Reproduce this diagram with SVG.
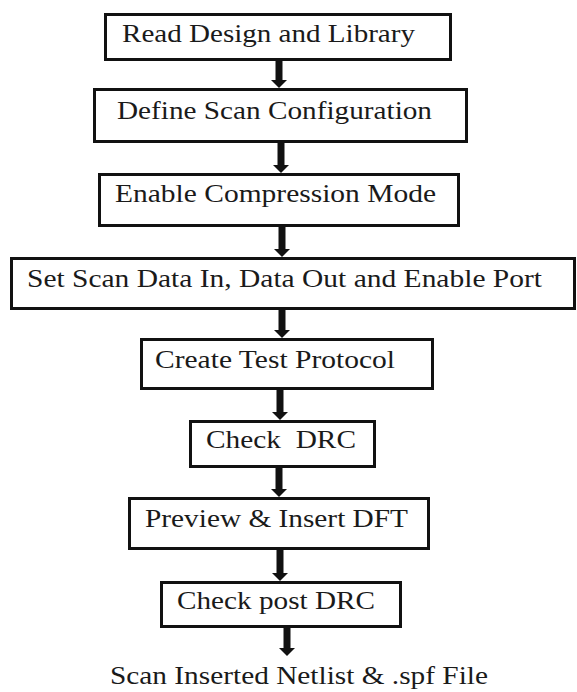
<svg xmlns="http://www.w3.org/2000/svg" width="577" height="692" viewBox="0 0 577 692">
  <style>
    .box { fill: #ffffff; stroke: #111111; stroke-width: 3; }
    .lbl { font-family: "Liberation Serif", "Times New Roman", serif; font-size: 26px; fill: #1a1a1a; }
    .conn { stroke: #111111; stroke-width: 7; fill: none; }
  </style>
  <defs>
    <marker id="head" markerUnits="userSpaceOnUse" viewBox="0 0 8 16" refX="0" refY="8" markerWidth="8" markerHeight="16" orient="auto">
      <path d="M0,0 L8,8 L0,16 Z" fill="#111111"/>
    </marker>
  </defs>
  <rect width="577" height="692" fill="#ffffff"/>

  <g id="connectors">
    <line class="conn" x1="279" y1="60" x2="279" y2="80" marker-end="url(#head)"/>
    <line class="conn" x1="281" y1="143" x2="281" y2="165" marker-end="url(#head)"/>
    <line class="conn" x1="282" y1="227" x2="282" y2="249" marker-end="url(#head)"/>
    <line class="conn" x1="282" y1="310" x2="282" y2="330" marker-end="url(#head)"/>
    <line class="conn" x1="280" y1="390" x2="280" y2="412" marker-end="url(#head)"/>
    <line class="conn" x1="279" y1="468" x2="279" y2="489" marker-end="url(#head)"/>
    <line class="conn" x1="280" y1="550" x2="280" y2="573" marker-end="url(#head)"/>
    <line class="conn" x1="287" y1="628" x2="287" y2="648" marker-end="url(#head)"/>
  </g>

  <g id="n1">
    <rect class="box" x="105.5" y="14.5" width="345" height="45"/>
    <text class="lbl" x="122" y="42" textLength="293" lengthAdjust="spacingAndGlyphs">Read Design and Library</text>
  </g>
  <g id="n2">
    <rect class="box" x="94.5" y="89.5" width="372" height="52"/>
    <text class="lbl" x="117" y="119" textLength="315" lengthAdjust="spacingAndGlyphs">Define Scan Configuration</text>
  </g>
  <g id="n3">
    <rect class="box" x="99.5" y="174.5" width="359" height="51"/>
    <text class="lbl" x="115" y="202" textLength="321" lengthAdjust="spacingAndGlyphs">Enable Compression Mode</text>
  </g>
  <g id="n4">
    <rect class="box" x="11.5" y="258.5" width="563" height="50"/>
    <text class="lbl" x="27" y="287" textLength="515" lengthAdjust="spacingAndGlyphs">Set Scan Data In, Data Out and Enable Port</text>
  </g>
  <g id="n5">
    <rect class="box" x="141.5" y="339.5" width="291" height="49"/>
    <text class="lbl" x="155" y="368" textLength="240" lengthAdjust="spacingAndGlyphs">Create Test Protocol</text>
  </g>
  <g id="n6">
    <rect class="box" x="190.5" y="421.5" width="184" height="45"/>
    <text class="lbl" x="206" y="448" textLength="150" lengthAdjust="spacingAndGlyphs" xml:space="preserve">Check  DRC</text>
  </g>
  <g id="n7">
    <rect class="box" x="129.5" y="498.5" width="299" height="50"/>
    <text class="lbl" x="145" y="527" textLength="263" lengthAdjust="spacingAndGlyphs">Preview &amp; Insert DFT</text>
  </g>
  <g id="n8">
    <rect class="box" x="161.5" y="582.5" width="239" height="44"/>
    <text class="lbl" x="177" y="609" textLength="198" lengthAdjust="spacingAndGlyphs">Check post DRC</text>
  </g>
  <g id="n9">
    <text class="lbl" x="110" y="684" textLength="378" lengthAdjust="spacingAndGlyphs">Scan Inserted Netlist &amp; .spf File</text>
  </g>
</svg>
